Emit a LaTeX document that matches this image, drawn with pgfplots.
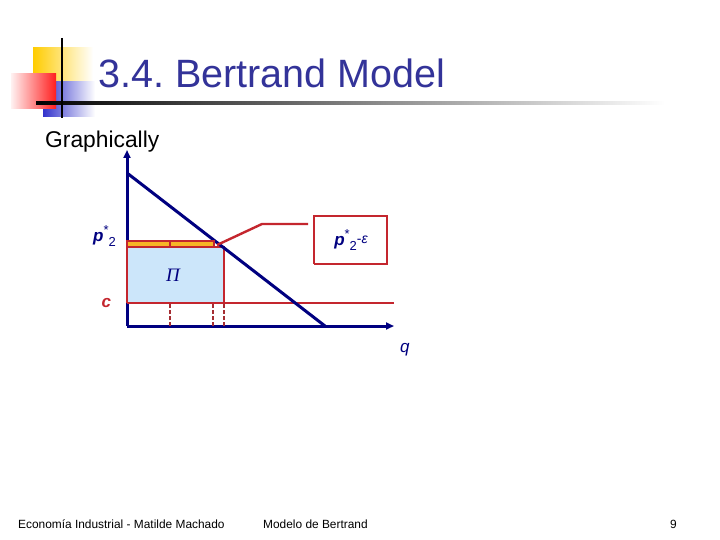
\documentclass[border=0pt]{standalone}
\usepackage{pgfplots}
\pgfplotsset{compat=1.18}
\usepackage{fontspec}
\setmainfont{Liberation Sans}
\newfontfamily\seriffont{Liberation Serif}
\usetikzlibrary{arrows.meta}
\frenchspacing
\definecolor{navy}{RGB}{0,0,128}
\definecolor{myred}{RGB}{196,38,46}
\definecolor{dashred}{RGB}{165,45,50}
\definecolor{barorange}{RGB}{247,181,38}
\definecolor{lightblue}{RGB}{204,230,250}
\definecolor{titleblue}{RGB}{51,51,153}
\definecolor{sqyellow}{RGB}{255,204,0}
\definecolor{sqblue}{RGB}{51,51,204}
\definecolor{sqred}{RGB}{255,30,30}
\newcommand{\pstar}[1]{{\bfseries\itshape p}\raisebox{0.38em}{\fontsize{#1}{#1}\selectfont *}\raisebox{-0.3em}{\fontsize{#1}{#1}\selectfont 2}}
\begin{document}
\begin{tikzpicture}[x=1bp,y=1bp]
\path[use as bounding box, fill=white] (0,0) rectangle (720,-540);
% header decoration
\shade[left color=sqyellow, middle color=sqyellow!85, right color=white] (33,-48) rectangle (93,-82);
\shade[left color=sqblue, middle color=sqblue!70, right color=white] (43,-82) rectangle (95,-117);
\shade[left color=sqred!6, right color=sqred] (11,-74) rectangle (56,-109);
\shade[left color=black, middle color=black!50, right color=white] (36,-101.7) rectangle (665,-104.8);
\draw[black, line width=2bp] (62,-38) -- (62,-118);
\node[anchor=base west, inner sep=0, text=titleblue, font=\fontsize{39.5bp}{40bp}\selectfont] at (98,-88) {3.4. Bertrand Model};
\node[anchor=base west, inner sep=0, font=\fontsize{22.8bp}{24bp}\selectfont] at (45,-147.3) {Graphically};
% footer
\node[anchor=base west, inner sep=0, font=\fontsize{11.9bp}{13bp}\selectfont] at (18,-528.3) {Economía Industrial - Matilde Machado};
\node[anchor=base west, inner sep=0, font=\fontsize{11.9bp}{13bp}\selectfont] at (263,-528.3) {Modelo de Bertrand};
\node[anchor=base west, inner sep=0, font=\fontsize{11.9bp}{13bp}\selectfont] at (670,-528.3) {9};
% chart
\begin{axis}[
  at={(127bp,-326bp)}, anchor=south west,
  scale only axis, width=267bp, height=176bp,
  xmin=0, xmax=267, ymin=0, ymax=176,
  axis lines=left,
  axis line style={draw=navy, line width=3bp},
  every outer x axis line/.append style={-{Triangle[length=8bp,width=7bp]}},
  every outer y axis line/.append style={-{Triangle[length=8bp,width=7bp]}},
  xtick=\empty, ytick=\empty, clip=false,
]
% dashed quantity markers
\addplot[dashred, line width=2.2bp, dash pattern=on 4bp off 2bp] coordinates {(43,0) (43,23)};
\addplot[dashred, line width=2.2bp, dash pattern=on 4bp off 2bp] coordinates {(86,0) (86,23)};
\addplot[dashred, line width=2.2bp, dash pattern=on 4bp off 2bp] coordinates {(97,0) (97,23)};
% cost line
\addplot[myred, line width=2.8bp] coordinates {(0,23) (267,23)};
% profit rectangle
\addplot[fill=lightblue, draw=myred, line width=2.6bp, line join=miter] coordinates {(0,23) (97,23) (97,79) (0,79) (0,23)};
% demand
\addplot[navy, line width=3bp] coordinates {(0,153) (198,0)};
% orange bar between p*2 and p*2-eps
\addplot[fill=barorange, draw=myred, line width=1.8bp, line join=miter] coordinates {(0,79) (87,79) (87,84.8) (0,84.8) (0,79)};
\addplot[myred, line width=2bp] coordinates {(43,79) (43,84.8)};
% callout
\addplot[myred, line width=2.4bp] coordinates {(90,81) (135,102) (181,102)};
\addplot[fill=white, draw=myred, line width=2.6bp, line join=miter] coordinates {(187,62) (260,62) (260,110) (187,110) (187,62)};
% labels
\node[anchor=base west, inner sep=0, text=navy, font=\fontsize{17bp}{18bp}\selectfont] at (axis cs:-34,85) {\pstar{13bp}};
\node[anchor=base west, inner sep=0, text=myred, font=\fontsize{17bp}{18bp}\selectfont\bfseries\itshape] at (axis cs:-25.5,19) {c};
\node[anchor=base west, inner sep=0, text=navy, font=\fontsize{17bp}{18bp}\selectfont\itshape] at (axis cs:273,-26) {q};
\node[text=navy, inner sep=0, font=\fontsize{17bp}{18bp}\selectfont] at (axis cs:224,86) {\pstar{13bp}\raisebox{0.12em}{\fontsize{14bp}{14bp}\selectfont-\itshape ε}};
\node[text=navy, inner sep=0, font=\fontsize{19bp}{20bp}\selectfont\seriffont\itshape] at (axis cs:46,51) {Π};
\end{axis}
\end{tikzpicture}
\end{document}
